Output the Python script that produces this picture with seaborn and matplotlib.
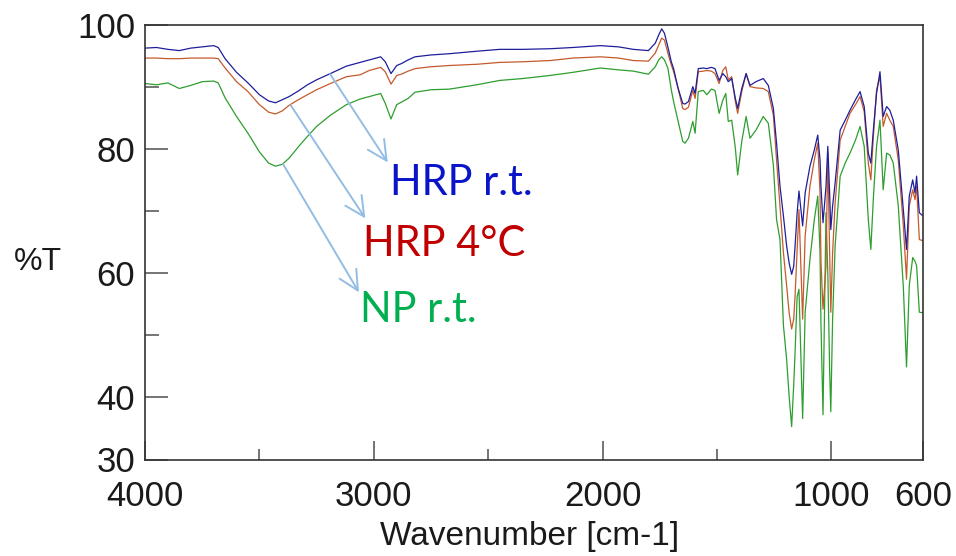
import matplotlib
matplotlib.use("Agg")
import matplotlib.pyplot as plt
import seaborn as sns
import pandas as pd
from matplotlib.ticker import FixedLocator

# wavenumber grid (cm-1)
wavenumber = [4000, 3950, 3900, 3850, 3800, 3750, 3700, 3680, 3650, 3600,
              3550, 3500, 3460, 3430, 3400, 3370, 3330, 3290, 3250, 3190,
              3120, 3060, 3020, 2970, 2950, 2925, 2900, 2880, 2850, 2820,
              2750, 2670, 2550, 2450, 2350, 2230, 2130, 2010, 1930, 1866,
              1800, 1770, 1755, 1742, 1730, 1715, 1700, 1690, 1670, 1650,
              1640, 1625, 1606, 1596, 1582, 1560, 1545, 1525, 1509, 1491,
              1475, 1462, 1451, 1436, 1420, 1410, 1392, 1373, 1356, 1330,
              1298, 1276, 1254, 1240, 1225, 1210, 1196, 1185, 1174, 1165,
              1159, 1150, 1142, 1126, 1115, 1094, 1075, 1060, 1050, 1046,
              1037, 1024, 1016, 1008, 1003, 995, 984, 962, 940, 919,
              895, 875, 857, 839, 828, 817, 803, 788, 774, 759,
              745, 730, 708, 686, 672, 660, 645, 635, 628, 616, 600]

hrp_rt = [96.2, 96.3, 96.0, 95.8, 96.2, 96.4, 96.6, 96.3, 94.5, 92.3,
          90.6, 88.7, 87.7, 87.4, 87.9, 88.4, 89.3, 90.3, 91.1, 92.1,
          93.3, 93.9, 94.3, 94.8, 94.0, 92.1, 93.4, 93.7, 94.3, 94.8,
          95.1, 95.3, 95.7, 96.0, 96.0, 96.1, 96.3, 96.6, 96.4, 96.0,
          95.8, 97.0, 98.3, 99.3, 98.6, 96.4, 94.0, 92.9, 89.7, 87.3,
          87.2, 87.6, 90.0, 88.9, 92.9, 93.0, 92.9, 93.1, 92.9, 91.0,
          92.1, 91.6, 90.8, 91.3, 88.1, 86.5, 89.7, 92.1, 90.2, 90.8,
          91.3, 90.2, 86.5, 80.9, 74.0, 69.2, 64.4, 61.6, 59.8, 61.1,
          64.4, 69.7, 73.2, 67.6, 72.9, 77.2, 79.8, 82.2, 78.2, 74.0,
          68.1, 73.9, 80.4, 72.8, 67.0, 70.8, 74.5, 83.0, 84.6, 86.2,
          87.9, 89.2, 86.8, 79.3, 77.7, 83.0, 88.9, 92.4, 85.2, 86.8,
          86.2, 84.6, 79.8, 70.2, 63.8, 72.4, 75.0, 72.9, 75.6, 69.7, 69.2]

hrp_4c = [94.6, 94.6, 94.5, 94.5, 94.6, 94.6, 94.6, 94.5, 93.0, 90.8,
          89.2, 87.1, 85.9, 85.6, 86.1, 87.0, 87.9, 88.7, 89.5, 90.5,
          91.6, 91.9, 92.6, 93.1, 92.4, 90.4, 91.8, 92.0, 92.5, 92.9,
          93.2, 93.4, 93.6, 93.9, 94.0, 94.2, 94.6, 94.8, 94.6, 94.2,
          94.1, 95.4, 96.7, 97.8, 97.5, 95.4, 93.5, 92.4, 89.7, 86.5,
          86.3, 86.7, 89.4, 88.1, 92.4, 92.5, 92.6, 92.5, 92.1, 90.5,
          92.6, 93.2, 91.1, 91.6, 87.6, 85.7, 89.2, 92.1, 90.0, 89.8,
          89.7, 89.2, 85.4, 78.2, 70.8, 63.3, 58.0, 53.6, 51.0, 52.6,
          56.4, 63.8, 70.2, 52.6, 66.0, 74.0, 78.2, 80.9, 72.9, 62.0,
          54.2, 61.0, 79.3, 63.3, 53.7, 63.3, 71.3, 81.4, 83.6, 85.7,
          87.1, 88.4, 86.0, 77.7, 75.0, 81.9, 89.5, 91.6, 83.6, 85.7,
          84.6, 83.6, 78.2, 67.6, 59.0, 70.8, 73.4, 71.8, 74.0, 65.4, 65.2]

np_rt = [90.5, 90.3, 90.6, 89.7, 90.2, 90.8, 90.9, 90.6, 88.2, 85.2,
         82.5, 79.5, 77.7, 77.2, 77.5, 78.5, 80.3, 82.0, 83.6, 85.4,
         87.1, 88.0, 88.4, 88.9, 87.3, 84.8, 87.1, 87.5, 88.1, 89.1,
         89.5, 89.6, 90.3, 91.0, 91.3, 91.8, 92.3, 93.0, 92.7, 92.5,
         92.0, 93.2, 94.3, 94.8, 94.3, 93.0, 89.5, 87.6, 84.4, 81.2,
         80.9, 81.7, 84.4, 82.5, 89.2, 89.4, 88.7, 89.6, 89.4, 85.7,
         87.8, 88.9, 84.4, 84.6, 80.1, 75.8, 81.2, 85.2, 81.7, 83.0,
         85.2, 84.1, 77.4, 68.6, 65.4, 51.6, 46.1, 40.2, 35.3, 42.0,
         47.3, 56.2, 57.4, 36.6, 53.7, 62.2, 68.6, 72.4, 63.3, 52.0,
         37.2, 69.7, 60.0, 44.4, 37.7, 52.6, 64.4, 75.6, 77.7, 79.3,
         81.4, 83.6, 80.4, 68.6, 63.8, 72.0, 80.4, 84.6, 73.4, 79.3,
         79.0, 77.7, 70.8, 57.8, 44.9, 58.0, 62.5, 61.9, 61.2, 53.7, 53.6]

series_names = ["HRP r.t.", "HRP 4\u00b0C", "NP r.t."]
line_colors = ["#1E1E9C", "#C45A2C", "#2E9E2E"]
label_colors = ["#0A14C8", "#C00000", "#00B050"]

# arrow tails / heads and label anchors in data units (wavenumber, %T)
arrow_from = [(3191, 92.0), (3363, 87.0), (3396, 77.5)]
arrow_to = [(2939, 77.8), (3037, 68.8), (3065, 56.9)]
label_at = [(2929, 72.6), (3047, 62.8), (3060, 52.2)]

df = pd.DataFrame({"wavenumber": wavenumber * 3,
                   "T": hrp_rt + hrp_4c + np_rt,
                   "sample": [n for n in series_names for _ in wavenumber]})

sns.set_style("ticks")
plt.rcParams["font.family"] = ["Liberation Sans", "DejaVu Sans"]

fig = plt.figure(figsize=(9.56, 5.56), dpi=100)
ax = fig.add_axes([145 / 956, 1 - 459.5 / 556, 778 / 956, 435 / 556])

sns.lineplot(data=df, x="wavenumber", y="T", hue="sample",
             palette=dict(zip(series_names, line_colors)),
             hue_order=series_names[::-1], linewidth=0.9, ax=ax,
             legend=False, estimator=None)

ax.set_xlim(4000, 600)
ax.set_ylim(30, 100)

ax.set_xticks([4000, 3000, 2000, 1000, 600])
ax.set_xticklabels(["4000", "3000", "2000", "1000", "600"])
ax.xaxis.set_minor_locator(FixedLocator([3500, 2500, 1500]))
ax.set_yticks([30, 40, 60, 80, 100])
ax.yaxis.set_minor_locator(FixedLocator([50, 70, 90]))

ax.tick_params(axis="x", which="major", direction="in", length=13.7,
               width=1.1, color="#505050", labelsize=25, pad=15)
ax.tick_params(axis="x", which="minor", direction="in", length=8,
               width=1.1, color="#505050")
ax.tick_params(axis="y", which="major", direction="in", length=16.6,
               width=1.1, color="#505050", labelsize=25, pad=7)
ax.tick_params(axis="y", which="minor", direction="in", length=10,
               width=1.1, color="#505050")
ax.tick_params(labelcolor="#1a1a1a")

for side in ["left", "right", "top", "bottom"]:
    ax.spines[side].set_visible(True)
    ax.spines[side].set_color("#333333")
    ax.spines[side].set_linewidth(1.2)

ax.set_xlabel("")
ax.set_ylabel("")
fig.text(530 / 956, 1 - 536 / 556, "Wavenumber [cm-1]", fontsize=24,
         ha="center", va="center", color="#1a1a1a")
fig.text(38 / 956, 1 - 262 / 556, "%T", fontsize=23,
         ha="center", va="center", color="#1a1a1a")

for start, end, pos, name, col in zip(arrow_from, arrow_to, label_at,
                                      series_names, label_colors):
    ax.annotate("", xy=end, xytext=start,
                arrowprops=dict(arrowstyle="->,head_length=0.7,head_width=0.35",
                                color="#93BDE3", lw=1.4, shrinkA=0, shrinkB=0,
                                mutation_scale=20))
    ax.text(pos[0], pos[1], name, color=col, fontsize=30,
            family=["Lato", "DejaVu Sans"], ha="left", va="baseline")

fig.savefig("out.png", dpi=100)
